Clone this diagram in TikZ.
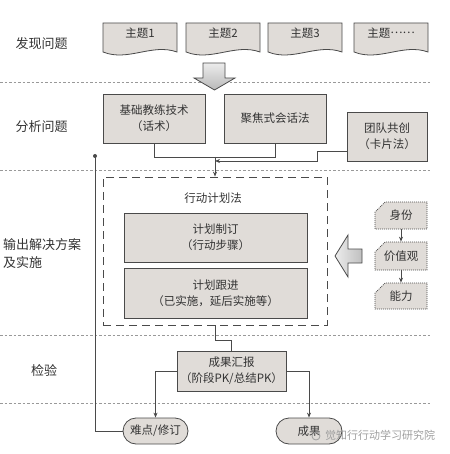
\documentclass[tikz,border=0pt]{standalone}
\usepackage{fontspec}
\setmainfont{Noto Sans CJK SC}
\usetikzlibrary{arrows.meta,calc,shapes.misc}
\definecolor{boxfill}{HTML}{E0DCD8}
\definecolor{edge}{HTML}{4A4A4A}
\definecolor{txt}{HTML}{333333}
\newcommand\fsbox{\fontsize{11.5}{16}\selectfont}
\newcommand\fslab{\fontsize{13}{18}\selectfont}
\tikzset{
  box/.style={draw=edge, fill=boxfill, line width=0.8pt, text=txt, font=\fsbox, align=center, inner sep=0pt},
  lab/.style={text=txt, font=\fslab, inner sep=0pt, align=left},
  sep/.style={draw=gray!80, line width=0.9pt, dash pattern=on 2.5pt off 2pt},
  docst/.style={draw=edge, fill=boxfill, line width=0.8pt},
  topictxt/.style={text=txt, font=\fsbox, inner sep=0pt, minimum width=74pt, minimum height=20pt},
  conn/.style={draw=edge, line width=0.8pt},
  arr/.style={conn, -{Stealth[length=5pt,width=4pt]}},
  card/.style={draw=edge, fill=boxfill, line width=0.7pt, dash pattern=on 1pt off 1pt, chamfered rectangle, chamfered rectangle corners=north west, chamfered rectangle xsep=5pt, chamfered rectangle ysep=5pt, text=txt, font=\fsbox, inner sep=0pt},
  pill/.style={box, rounded corners=13pt, minimum height=26pt},
  blockarrow/.style={draw=edge, line width=0.8pt}
}
\newcommand\topicdoc[3]{%
  \draw[docst] ({#2-37},23) -- ({#2+37},23) -- ({#2+37},52) .. controls ({#2+12},43) and ({#2-12},62) .. ({#2-37},52) -- cycle;
  \node[topictxt] (#1) at (#2,33) {#3};}
\begin{document}
\begin{tikzpicture}[x=1pt,y=-1pt]
\useasboundingbox (0,0) rectangle (449,454);
% separators
\foreach \yy/\nm in {82/s1,170/s2,335/s3,403/s4}{
  \coordinate (\nm a) at (0,\yy); \coordinate (\nm b) at (430,\yy);
  \draw[sep] (\nm a) -- (\nm b);}
% row labels
\node[lab] (l1) at (41.5,44) {发现问题};
\node[lab] (l2) at (41.5,127) {分析问题};
\node[lab, anchor=west] (l3) at (3,254) {输出解决方案\\及实施};
\node[lab] (l4) at (44,371) {检验};
% topics
\topicdoc{t1}{140}{主题1}
\topicdoc{t2}{223}{主题2}
\topicdoc{t3}{305}{主题3}
\topicdoc{t4}{391}{主题\raisebox{3.5pt}{……}}
% big down arrow
\path[blockarrow, top color=gray!15, bottom color=gray!55]
  (203,63) -- (225,63) -- (225,78) -- (235,78) -- (214.5,90) -- (194,78) -- (203,78) -- cycle;
% analysis boxes
\node[box, minimum width=102pt, minimum height=49pt] (b1) at (154,118.5) {基础教练技术\\（话术）};
\node[box, minimum width=102pt, minimum height=49pt] (b2) at (275,118.5) {聚焦式会话法};
\node[box, minimum width=80pt, minimum height=49pt] (b3) at (387,136.5) {团队共创\\（卡片法）};
% action plan area
\node[draw=edge, line width=0.8pt, dash pattern=on 8pt off 5pt, minimum width=224pt, minimum height=148pt, inner sep=0pt] (dbox) at (215,251) {};
\node[text=txt, font=\fsbox, inner sep=0pt] (apt) at (213,198) {行动计划法};
\node[box, minimum width=183pt, minimum height=49pt] (p1) at (215.5,237.5) {计划制订\\（行动步骤）};
\node[box, minimum width=183pt, minimum height=50pt] (p2) at (215.5,293) {计划跟进\\（已实施，延后实施等）};
% connectors analysis -> plan
\coordinate (j1) at (215,157);
\coordinate (j2) at (215,161);
\coordinate (b3o) at (347,151);
\draw[conn] (b1.south) -- ++(0,14) -| (b2.south);
\draw[arr] (j1) -- (dbox.north);
\draw[arr] (b3o) -- (317,151) -- (317,161) -- (j2);
% right cards
\node[card, minimum width=52pt, minimum height=27pt] (c1) at (401,215.5) {身份};
\node[card, minimum width=52pt, minimum height=28pt] (c2) at (401,256) {价值观};
\node[card, minimum width=52pt, minimum height=26pt] (c3) at (401,296) {能力};
\draw[arr] (c1.south) -- (c2.north);
\draw[arr] (c2.south) -- (c3.north);
% left block arrow
\path[blockarrow, left color=gray!15, right color=gray!50]
  (362,249) -- (348,249) -- (348,235) -- (335,256) -- (348,277) -- (348,263) -- (362,263) -- cycle;
% check
\node[box, minimum width=109pt, minimum height=40pt] (r) at (231.5,371) {成果汇报\\（阶段PK/总结PK）};
\draw[conn] (dbox.south) -- ++(0,15) -| (r.north);
\node[pill, minimum width=65pt] (n1) at (155.5,431) {难点/修订};
\node[pill, minimum width=66pt] (n2) at (309,431) {成果};
\draw[arr] (r.west) -| (n1.north);
\draw[arr] (r.east) -| (n2.north);
\coordinate (dot) at (95,156);
\draw[conn] (n1.west) -| (dot);
\fill[edge] (dot) circle (2pt);
% watermark
\node[text=gray!75, font=\fontsize{11}{13}\selectfont, inner sep=0pt] (wm) at (380,435) {觉知行行动学习研究院};
\draw[gray!75, line width=0.8pt] (316,436) circle (4pt);
\end{tikzpicture}
\end{document}
